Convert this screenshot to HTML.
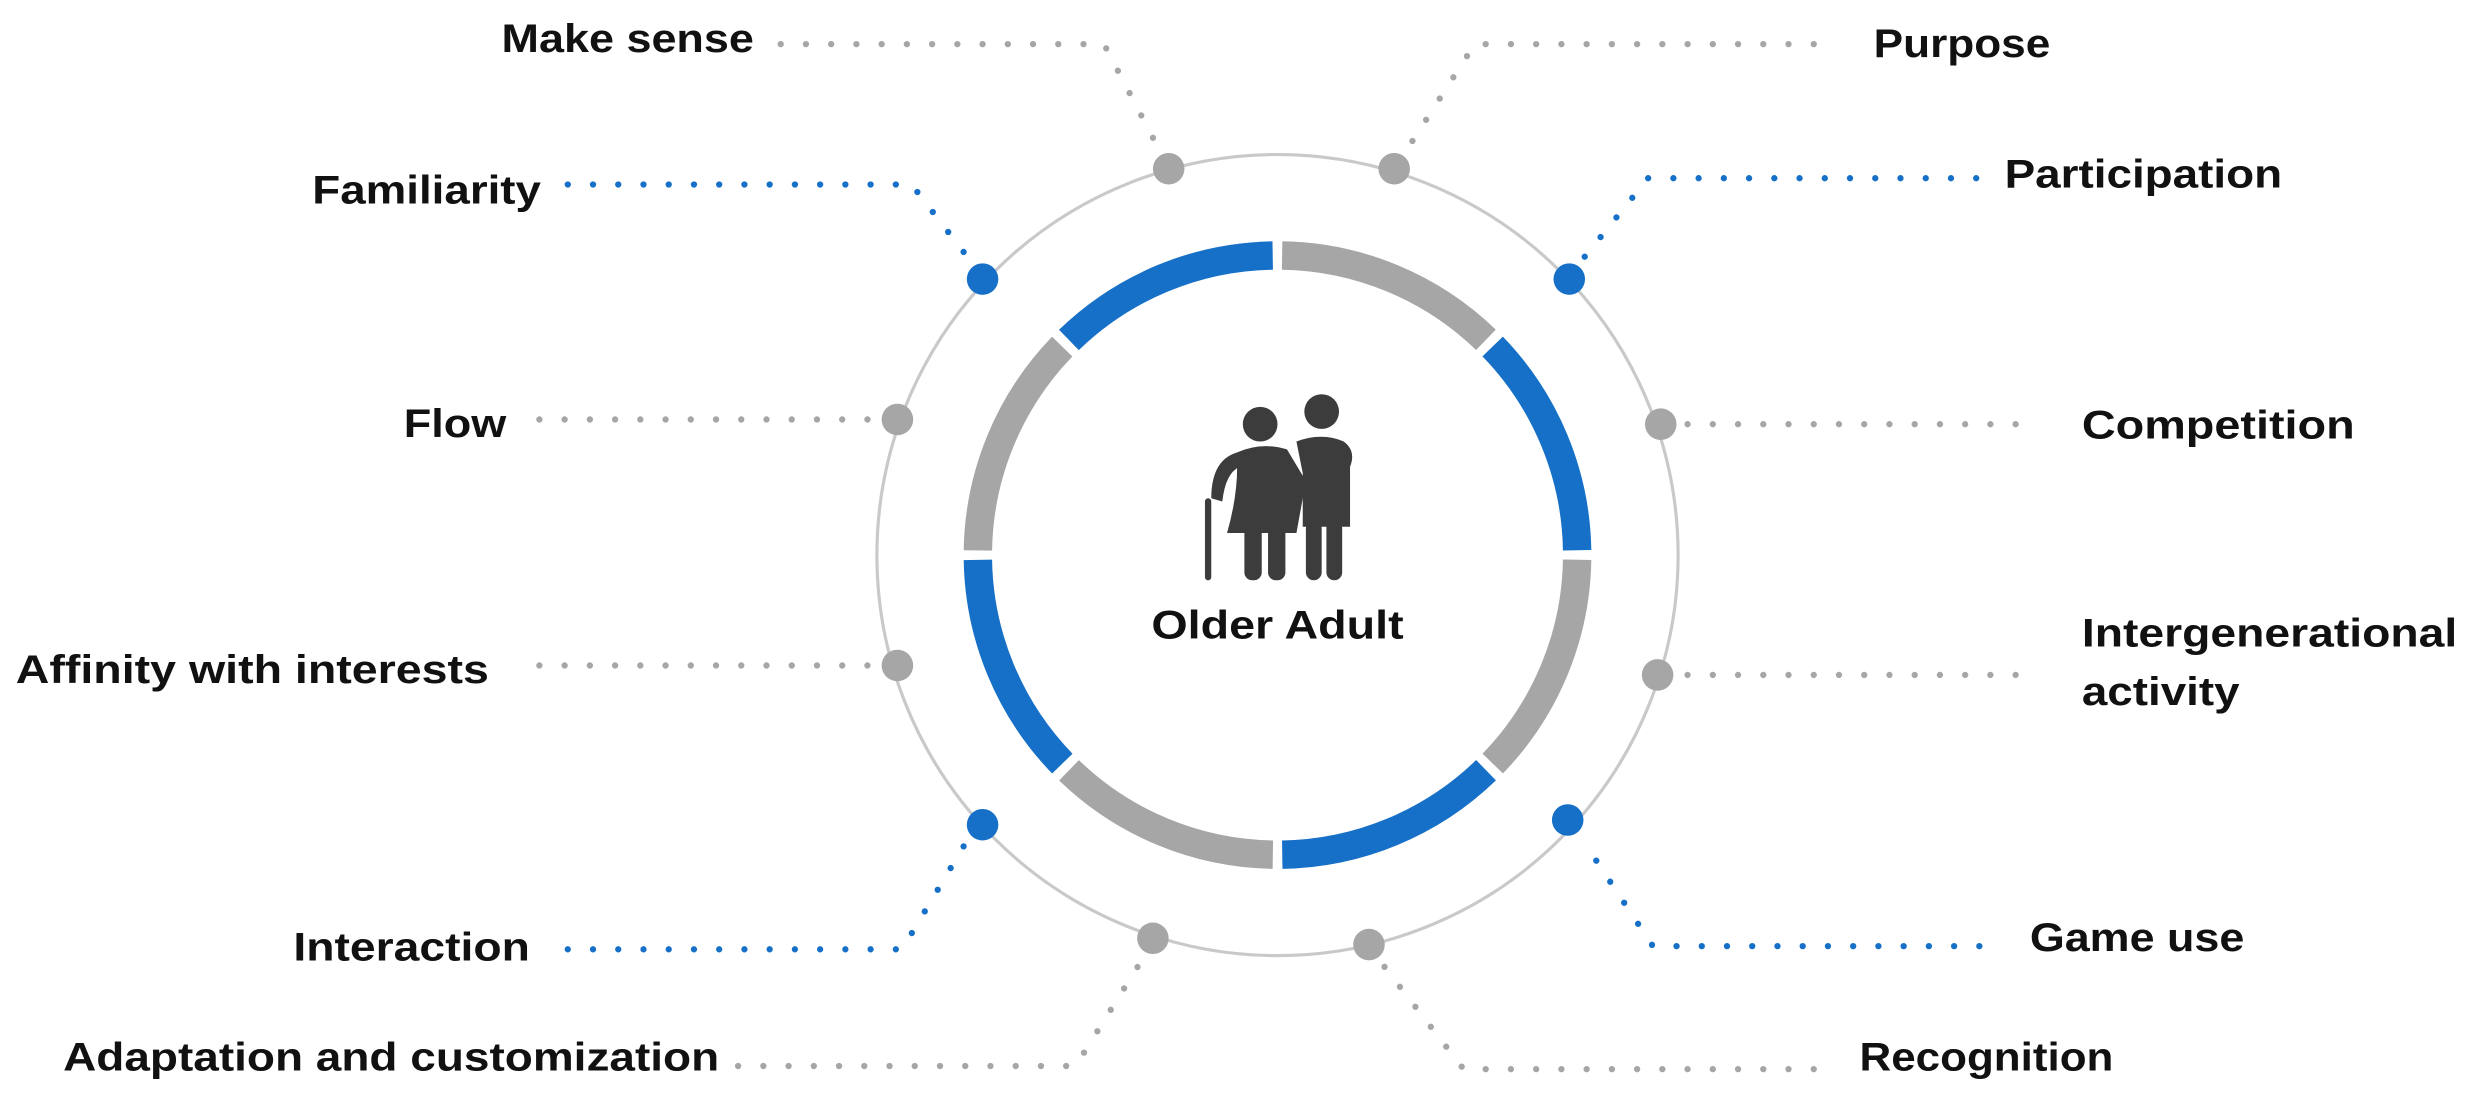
<!DOCTYPE html>
<html><head><meta charset="utf-8"><style>
html,body{margin:0;padding:0;background:#fff;}
svg{display:block;}
text{font-family:"Liberation Sans",sans-serif;font-weight:bold;fill:#111;font-size:25px;}
</style></head><body>
<svg width="2473" height="1107" viewBox="0 0 1568 702" preserveAspectRatio="none" xmlns="http://www.w3.org/2000/svg">
<rect width="1568" height="702" fill="#fff"/>
<circle cx="810" cy="352" r="254" fill="none" stroke="#c9c9c9" stroke-width="2"/>
<circle cx="810" cy="352" r="190" fill="none" stroke="#a6a6a6" stroke-width="18" stroke-dasharray="143.2 155.2" stroke-dashoffset="-3"/>
<circle cx="810" cy="352" r="190" fill="none" stroke="#1670c7" stroke-width="18" stroke-dasharray="143.2 155.2" stroke-dashoffset="-152.2"/>
<g fill="none" stroke-width="4" stroke-linecap="round" stroke-dasharray="0 16">
<path d="M495 28 H700 L735 95" stroke="#a6a6a6"/>
<path d="M1150 28 H935 L892 95" stroke="#a6a6a6"/>
<path d="M360 117 H578 L615 165" stroke="#1670c7"/>
<path d="M1253 113 H1045 L1003 165" stroke="#1670c7"/>
<path d="M342 266 H555" stroke="#a6a6a6"/>
<path d="M1070 269 H1290" stroke="#a6a6a6"/>
<path d="M342 422 H555" stroke="#a6a6a6"/>
<path d="M1070 428 H1285" stroke="#a6a6a6"/>
<path d="M360 602 H572 L612 535" stroke="#1670c7"/>
<path d="M1255 600 H1048 L1005 535" stroke="#1670c7"/>
<path d="M468 676 H682 L722 612" stroke="#a6a6a6"/>
<path d="M1150 678 H928 L877 612" stroke="#a6a6a6"/>
</g>
<g fill="#a6a6a6">
<circle cx="741" cy="107" r="10"/><circle cx="884" cy="107" r="10"/>
<circle cx="1053" cy="269" r="10"/><circle cx="1051" cy="428" r="10"/>
<circle cx="868" cy="599" r="10"/><circle cx="731" cy="595" r="10"/>
<circle cx="569" cy="422" r="10"/><circle cx="569" cy="266" r="10"/>
</g>
<g fill="#1670c7">
<circle cx="995" cy="177" r="10"/><circle cx="994" cy="520" r="10"/>
<circle cx="623" cy="523" r="10"/><circle cx="623" cy="177" r="10"/>
</g>
<g fill="#3c3c3c">
<circle cx="799" cy="269" r="11"/>
<circle cx="838" cy="261" r="11"/>
<path d="M784 287 Q800 280 816 285 L828 305 L822 338 L778 338 Q786 310 784 287 Z"/>
<path d="M784 287 Q768 292 768 316 L775 318 Q777 300 786 296 Z"/>
<rect x="764" y="316" width="4" height="52" rx="2"/>
<rect x="789" y="330" width="11" height="38" rx="5"/>
<rect x="804" y="330" width="11" height="38" rx="5"/>
<path d="M822 280 Q838 274 852 280 Q860 286 856 296 L856 334 L826 334 L826 300 Z"/>
<path d="M812 300 Q832 312 853 296 L856 305 Q832 320 812 308 Z"/>
<rect x="828" y="330" width="10" height="38" rx="5"/>
<rect x="841" y="330" width="10" height="38" rx="5"/>
</g>
<text x="810" y="405" text-anchor="middle" font-size="27" textLength="160" lengthAdjust="spacingAndGlyphs">Older Adult</text>
<text x="318" y="33" textLength="160" lengthAdjust="spacingAndGlyphs">Make sense</text>
<text x="1188" y="36" textLength="112" lengthAdjust="spacingAndGlyphs">Purpose</text>
<text x="198" y="129" textLength="145" lengthAdjust="spacingAndGlyphs">Familiarity</text>
<text x="1271" y="119" textLength="176" lengthAdjust="spacingAndGlyphs">Participation</text>
<text x="256" y="277" textLength="65" lengthAdjust="spacingAndGlyphs">Flow</text>
<text x="1320" y="278" textLength="173" lengthAdjust="spacingAndGlyphs">Competition</text>
<text x="10" y="433" textLength="300" lengthAdjust="spacingAndGlyphs">Affinity with interests</text>
<text x="1320" y="410" textLength="238" lengthAdjust="spacingAndGlyphs">Intergenerational</text>
<text x="1320" y="447" textLength="100" lengthAdjust="spacingAndGlyphs">activity</text>
<text x="186" y="609" textLength="150" lengthAdjust="spacingAndGlyphs">Interaction</text>
<text x="1287" y="603" textLength="136" lengthAdjust="spacingAndGlyphs">Game use</text>
<text x="40" y="679" textLength="416" lengthAdjust="spacingAndGlyphs">Adaptation and customization</text>
<text x="1179" y="679" textLength="161" lengthAdjust="spacingAndGlyphs">Recognition</text>
</svg>
</body></html>
